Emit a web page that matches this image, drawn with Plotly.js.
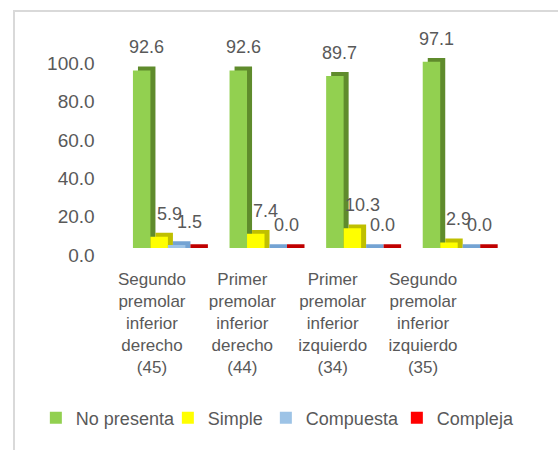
<!DOCTYPE html>
<html>
<head>
<meta charset="utf-8">
<script src="https://cdn.plot.ly/plotly-3.0.1.min.js"></script>
<style>
  html, body { margin: 0; padding: 0; background: #ffffff; overflow: hidden; }
  #frame { position: absolute; left: 13px; top: 10px; width: 620px; height: 520px;
           border-left: 2px solid #d9d9d9; border-top: 2px solid #d9d9d9; box-sizing: border-box; }
  #chart { position: absolute; left: 0; top: 0; width: 558px; height: 450px; }
</style>
</head>
<body>
<div id="frame"></div>
<div id="chart"></div>
<script>
// ---- data ----
const categories = [
  'Segundo<br>premolar<br>inferior<br>derecho<br>(45)',
  'Primer<br>premolar<br>inferior<br>derecho<br>(44)',
  'Primer<br>premolar<br>inferior<br>izquierdo<br>(34)',
  'Segundo<br>premolar<br>inferior<br>izquierdo<br>(35)'
];
const seriesNames = ['No presenta', 'Simple', 'Compuesta', 'Compleja'];
const noPresenta = [92.6, 92.6, 89.7, 97.1];
const simple     = [5.9, 7.4, 10.3, 2.9];
const compuesta  = [1.5, 0.0, 0.0, 0.0];
const compleja   = [0.0, 0.0, 0.0, 0.0];
const yTicks = [0, 20, 40, 60, 80, 100];

// ---- styling ----
const seriesValues = [noPresenta, simple, compuesta, compleja];
const frontColors = ['#92d050', '#ffff00', '#9dc3e6', '#ff0000'];
const sideColors  = ['#5f8b2c', '#bfbf00', '#74a3d3', '#c00000'];
const showLabels  = [true, true, true, false];
const labelXShift = [5, 10, 13, 13];
const legendWidths = [87, 53, 86, 76];
const barW = 0.181;
const offsets = [-0.362, -0.181, 0, 0.181];
const depthX = 0.052;   // 3D depth in category units
const depthY = 2.0;     // 3D depth in value units
const textColor = '#595959';
const fontFam = 'Liberation Sans, Arial, sans-serif';

const idx = categories.map((c, i) => i);
const traces = [];
const annotations = [];
seriesValues.forEach((vals, s) => {
  // side / top face (depth)
  traces.push({
    type: 'bar', x: idx, y: vals.map(v => v + depthY), base: 0,
    width: barW, offset: offsets[s] + depthX,
    marker: { color: sideColors[s], line: { width: 0 } },
    showlegend: false, hoverinfo: 'skip'
  });
  // front face
  traces.push({
    type: 'bar', name: seriesNames[s], x: idx, y: vals, base: 0,
    width: barW, offset: offsets[s], legendwidth: legendWidths[s],
    marker: { color: frontColors[s], line: { width: 0 } },
    hoverinfo: 'skip'
  });
  if (showLabels[s]) {
    vals.forEach((v, i) => {
      annotations.push({
        x: i + offsets[s] + barW / 2, y: v, xref: 'x', yref: 'y',
        text: v.toFixed(1), showarrow: false,
        xshift: labelXShift[s], yshift: 23,
        xanchor: 'center', yanchor: 'middle',
        font: { family: fontFam, size: 18, color: textColor }
      });
    });
  }
});
// empty trace so the category-label axis (drawn in perspective) gets created
traces.push({ type: 'bar', x: [], y: [], xaxis: 'x2', yaxis: 'y', showlegend: false, hoverinfo: 'skip' });

const layout = {
  width: 558, height: 450,
  margin: { l: 100, r: 52, t: 37, b: 202 },
  paper_bgcolor: 'rgba(0,0,0,0)',
  plot_bgcolor: 'rgba(0,0,0,0)',
  barmode: 'overlay',
  showlegend: true,
  font: { family: fontFam, color: textColor },
  xaxis: {
    domain: [0.0483, 1.0],
    range: [-0.5, 3.5], showgrid: false, zeroline: false, showline: false,
    showticklabels: false, ticks: '', fixedrange: true
  },
  xaxis2: {
    anchor: 'y', domain: [0.0167, 0.907],
    range: [-0.5, 3.5], tickvals: idx, ticktext: categories,
    showgrid: false, zeroline: false, showline: false, ticks: '',
    ticklabelstandoff: 19,
    tickfont: { family: fontFam, size: 17, color: textColor }
  },
  yaxis: {
    anchor: 'x',
    range: [0, 110], tickvals: yTicks, tickformat: '.1f',
    showgrid: false, zeroline: false, showline: false, ticks: '',
    ticklabelshift: 7, ticklabelstandoff: 24,
    tickfont: { family: fontFam, size: 19, color: textColor }
  },
  legend: {
    orientation: 'h', x: -0.158, xanchor: 'left', y: -0.806, yanchor: 'middle',
    font: { family: fontFam, size: 18, color: textColor },
    traceorder: 'normal', bgcolor: 'rgba(0,0,0,0)'
  },
  annotations: annotations
};

Plotly.newPlot('chart', traces, layout, { staticPlot: true, displayModeBar: false });
</script>
</body>
</html>
